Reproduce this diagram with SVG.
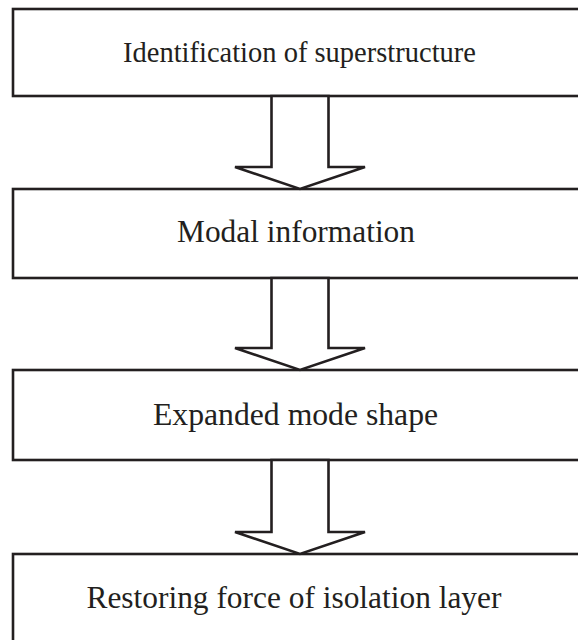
<svg xmlns="http://www.w3.org/2000/svg" width="578" height="640" viewBox="0 0 578 640">
<style>
.box{fill:#fff;stroke:#231f20;stroke-width:2.6}
.arr{fill:#fff;stroke:#231f20;stroke-width:2.6;stroke-linejoin:miter}
.t{font-family:"Liberation Serif","Times New Roman",serif;font-size:31.4px;fill:#231f20}
</style>
<rect width="578" height="640" fill="#fff"/>
<g id="n1"><rect class="box" x="13" y="9" width="580" height="87"/><text class="t" x="123" y="62" style="font-size:28.5px">Identification of superstructure</text></g>
<g id="n2"><rect class="box" x="13" y="189" width="580" height="89"/><text class="t" x="177" y="242">Modal information</text></g>
<g id="n3"><rect class="box" x="13" y="370" width="580" height="90"/><text class="t" x="153" y="425" style="font-size:31.7px">Expanded mode shape</text></g>
<g id="n4"><rect class="box" x="13" y="554" width="580" height="100"/><text class="t" x="86.5" y="608">Restoring force of isolation layer</text></g>
<g id="connectors">
<polygon class="arr" points="271.5,96 328.5,96 328.5,167 365,167 300,189 235,167 271.5,167"/>
<polygon class="arr" points="271.5,278 328.5,278 328.5,348 365,348 300,370 235,348 271.5,348"/>
<polygon class="arr" points="271.5,460 328.5,460 328.5,532 365,532 300,554 235,532 271.5,532"/>
</g>
</svg>
